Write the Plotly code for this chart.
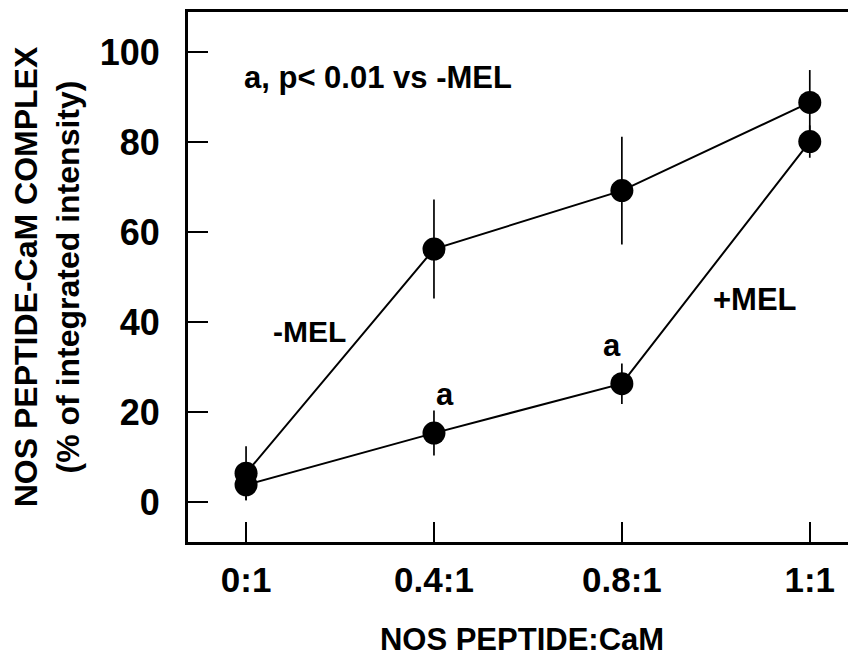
import plotly.graph_objects as go

categories = ["0:1", "0.4:1", "0.8:1", "1:1"]
x_pos = [0, 1, 2, 3]

minus_mel = [6.4, 56.2, 69.2, 88.8]
minus_mel_err = [6.0, 11.0, 12.0, 7.2]
plus_mel = [3.8, 15.3, 26.3, 80.1]
plus_mel_err = [3.4, 5.0, 4.5, 3.6]

y_ticks = [0, 20, 40, 60, 80, 100]

FONT = "Liberation Sans, Arial, sans-serif"

def f(size):
    return dict(family=FONT, size=size, color="black", weight="bold")

fig = go.Figure()

for vals, errs in [(minus_mel, minus_mel_err), (plus_mel, plus_mel_err)]:
    fig.add_trace(go.Scatter(
        x=x_pos, y=vals, mode="lines+markers",
        line=dict(color="black", width=2),
        marker=dict(color="black", size=23),
        error_y=dict(type="data", array=errs, visible=True, width=0,
                     thickness=1.7, color="black"),
        showlegend=False, hoverinfo="skip",
    ))

annots = [
    dict(x=-0.02, y=94.4, text="a, p< 0.01 vs -MEL", xanchor="left", size=31),
    dict(x=0.34, y=37.8, text="-MEL", xanchor="center", size=30),
    dict(x=2.71, y=45.0, text="+MEL", xanchor="center", size=31),
    dict(x=1.06, y=23.9, text="a", xanchor="center", size=31),
    dict(x=1.95, y=34.7, text="a", xanchor="center", size=31),
]
for a in annots:
    fig.add_annotation(x=a["x"], y=a["y"], text=a["text"], xanchor=a["xanchor"],
                       yanchor="middle", showarrow=False, font=f(a["size"]))

# page body has an 8px margin, so the figure is offset by (8, 8)
fig.update_layout(
    width=848, height=649,
    margin=dict(l=180, r=0, t=4, b=115),
    paper_bgcolor="white", plot_bgcolor="white",
    font=f(32),
    xaxis=dict(
        range=[-0.309, 3.246], tickvals=x_pos, ticktext=categories,
        ticks="inside", ticklen=20, tickwidth=1.6, tickcolor="black",
        showline=True, linewidth=3, linecolor="black", mirror=True,
        showgrid=False, zeroline=False, ticklabelstandoff=5,
        title=dict(text="NOS PEPTIDE:CaM", standoff=34, font=f(31)),
        tickfont=f(35),
    ),
    yaxis=dict(
        range=[-8.9, 108.9], tickvals=y_ticks,
        ticks="inside", ticklen=20, tickwidth=1.6, tickcolor="black",
        showline=True, linewidth=3, linecolor="black", mirror=False,
        showgrid=False, zeroline=False, ticklabelstandoff=18,
        title=dict(text="NOS PEPTIDE-CaM COMPLEX<br>(% of integrated intensity)", standoff=16,
                   font=f(32)),
        tickfont=f(36),
    ),
)

fig.write_html("out.html")
